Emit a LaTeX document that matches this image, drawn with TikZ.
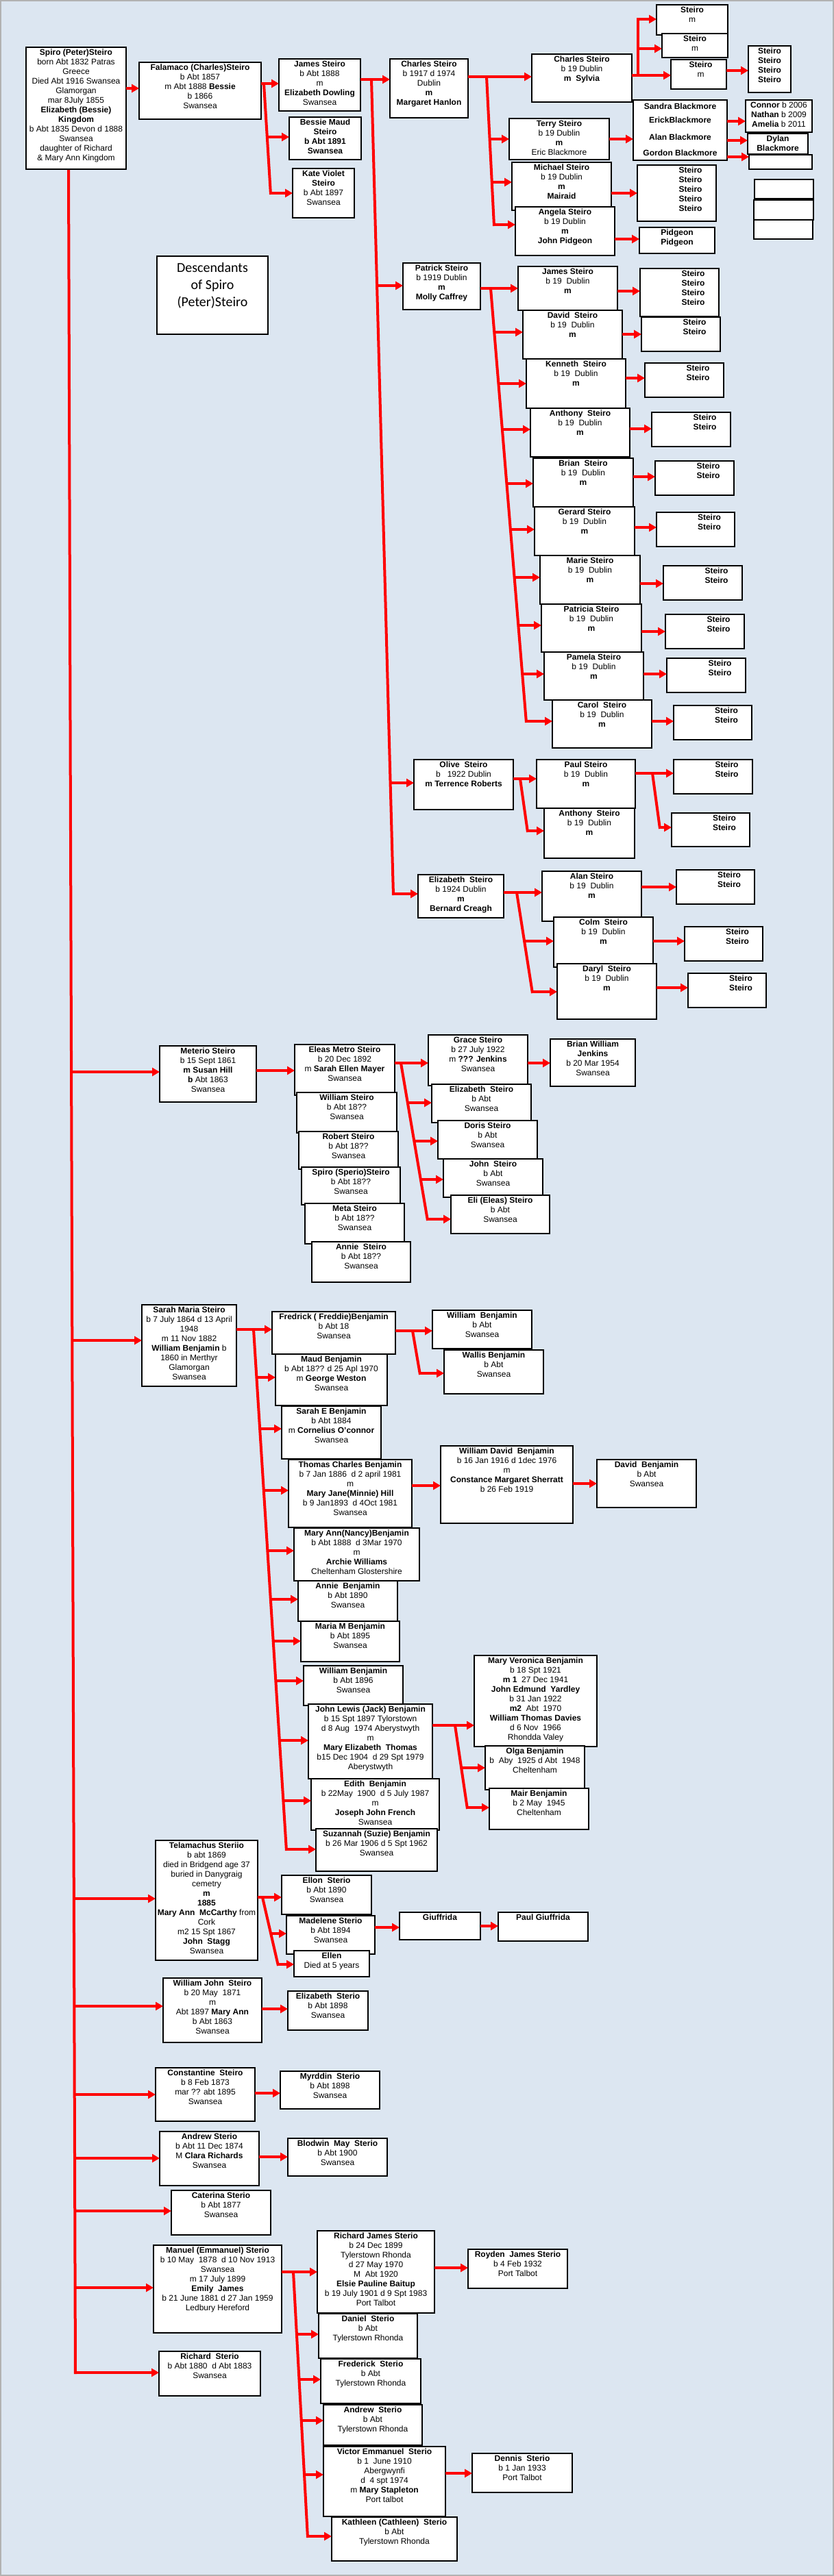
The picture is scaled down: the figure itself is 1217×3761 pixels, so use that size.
\documentclass[tikz,border=0pt]{standalone}
\usepackage{fontspec}
\setmainfont{Liberation Sans}
\newfontfamily\titlefont{Carlito}
\usetikzlibrary{arrows.meta}
\definecolor{bg}{RGB}{220,230,241}
\tikzset{
 pbox/.style={draw=black, fill=white, line width=1.2pt, inner sep=0pt, outer sep=0pt, rectangle},
 ptext/.style={anchor=north, align=center, inner sep=1pt, font=\fontsize{12}{14}\selectfont},
 redline/.style={draw=red, line width=4pt},
 redarrow/.style={redline, -{Triangle[length=11pt,width=12pt]}},
}
\newcommand{\pb}[7][0]{%
 \node[pbox, minimum width={(#5)-(#3)}, minimum height={(#6)-(#4)}] (#2) at ({((#3)+(#5))/2},{((#4)+(#6))/2}) {};
 \node[ptext] (#2-t) at ([xshift=#1pt, yshift=-2pt]#2.north) {#7};}
\newcommand{\ST}{\textbf{Steiro}\\\textbf{Steiro}}
\begin{document}
\begin{tikzpicture}[x=1pt,y=-1pt]
\useasboundingbox (0,0) rectangle (1217,3761);
\fill[bg] (0,0) rectangle (1217,3761);
\draw[gray!60, line width=2pt] (1,1) rectangle (1216,3760);

% ---------- main trunk ----------
\draw[redline] (100,247) -- (110,3466);

% ---------- top family ----------
\pb{spiro}{38}{69}{184}{247}{\textbf{Spiro (Peter)Steiro}\\born Abt 1832 Patras\\Greece\\Died Abt 1916 Swansea\\Glamorgan\\mar 8July 1855\\\textbf{Elizabeth (Bessie)}\\\textbf{Kingdom}\\b Abt 1835 Devon d 1888\\Swansea\\daughter of Richard\\\& Mary Ann Kingdom}
\pb{falamaco}{203}{91}{381}{174}{\textbf{Falamaco (Charles)Steiro}\\b Abt 1857\\m Abt 1888 \textbf{Bessie}\\b 1866\\Swansea}
\pb{james1}{407}{86}{526}{162}{\textbf{James Steiro}\\b Abt 1888\\m\\\textbf{Elizabeth Dowling}\\Swansea}
\pb{bessie}{422}{171}{527}{233}{\textbf{Bessie Maud}\\\textbf{Steiro}\\\textbf{b Abt 1891}\\\textbf{Swansea}}
\pb{kate}{427}{246}{517}{318}{\textbf{Kate Violet}\\\textbf{Steiro}\\b Abt 1897\\Swansea}

\pb{charles1}{569}{86}{683}{172}{\textbf{Charles Steiro}\\b 1917 d 1974\\Dublin\\\textbf{m}\\\textbf{Margaret Hanlon}}
\pb{charles2}{776}{79}{922}{149}{\textbf{Charles Steiro}\\b 19 Dublin\\\textbf{m\ \ Sylvia}}
\pb{terry}{743}{173}{889}{233}{\textbf{Terry Steiro}\\b 19 Dublin\\\textbf{m}\\Eric Blackmore}
\pb{michael}{747}{237}{892}{307}{\textbf{Michael Steiro}\\b 19 Dublin\\\textbf{m}\\\textbf{Mairaid}}
\pb{angela}{752}{302}{897}{373}{\textbf{Angela Steiro}\\b 19 Dublin\\\textbf{m}\\\textbf{John Pidgeon}}
\pb{s1}{958}{7}{1062}{51}{\textbf{Steiro}\\m}
\pb{s2}{966}{49}{1062}{84}{\textbf{Steiro}\\m}
\pb[3]{s3}{979}{87}{1060}{130}{\textbf{Steiro}\\m}
\pb{s4}{1092}{67}{1154}{135}{\ST\\\ST}
\pb{sandra}{924}{146}{1061}{234}{}
\node[ptext] (sandra-t) at ([yshift=-4pt]sandra.north) {\textbf{Sandra Blackmore}\\[6pt]\textbf{ErickBlackmore}\\[11pt]\textbf{Alan Blackmore}\\[9pt]\textbf{Gordon Blackmore}};
\pb{connor}{1088}{146}{1185}{193}{\textbf{Connor} b 2006\\\textbf{Nathan} b 2009\\\textbf{Amelia} b 2011}
\pb{dylan}{1091}{195}{1179}{225}{\textbf{Dylan}\\\textbf{Blackmore}}
\pb{empty1}{1093}{226}{1185}{247}{}
\pb[20]{s5}{930}{241}{1045}{323}{\ST\\\ST\\\textbf{Steiro}}
\pb{pidgeon}{933}{332}{1043}{370}{\textbf{Pidgeon}\\\textbf{Pidgeon}}
\pb{empty2}{1101}{262}{1187}{290}{}
\pb{empty3}{1100}{292}{1187}{321}{}
\pb{empty4}{1100}{321}{1186}{349}{}

% title
\node[pbox, minimum width=162, minimum height=114] (title) at (310,431) {};
\node[anchor=north, align=center, inner sep=0pt, font=\titlefont\fontsize{20}{25}\selectfont] (title-t) at ([yshift=-9pt]title.north) {Descendants\\of Spiro\\(Peter)Steiro};

% Patrick
\pb{patrick}{588}{384}{701}{452}{\textbf{Patrick Steiro}\\b 1919 Dublin\\\textbf{m}\\\textbf{Molly Caffrey}}
\pb{jamesd}{756}{389}{901}{453}{\textbf{James Steiro}\\b 19\ \ Dublin\\\textbf{m}}
\pb{david}{763}{453}{908}{524}{\textbf{David\ \ Steiro}\\b 19\ \ Dublin\\\textbf{m}}
\pb{kenneth}{768}{524}{913}{596}{\textbf{Kenneth\ \ Steiro}\\b 19\ \ Dublin\\\textbf{m}}
\pb{anthony1}{774}{596}{919}{667}{\textbf{Anthony\ \ Steiro}\\b 19\ \ Dublin\\\textbf{m}}
\pb{brian}{778}{669}{924}{740}{\textbf{Brian\ \ Steiro}\\b 19\ \ Dublin\\\textbf{m}}
\pb{gerard}{780}{740}{926}{811}{\textbf{Gerard Steiro}\\b 19\ \ Dublin\\\textbf{m}}
\pb{marie}{788}{811}{934}{882}{\textbf{Marie Steiro}\\b 19\ \ Dublin\\\textbf{m}}
\pb{patricia}{790}{882}{936}{952}{\textbf{Patricia Steiro}\\b 19\ \ Dublin\\\textbf{m}}
\pb{pamela}{794}{952}{939}{1022}{\textbf{Pamela Steiro}\\b 19\ \ Dublin\\\textbf{m}}
\pb{carol}{806}{1022}{951}{1092}{\textbf{Carol\ \ Steiro}\\b 19\ \ Dublin\\\textbf{m}}
\pb[20]{cj}{934}{392}{1049}{462}{\ST\\\ST}
\pb[20]{cd}{936}{463}{1051}{513}{\ST}
\pb[20]{ck}{941}{530}{1056}{580}{\ST}
\pb[20]{ca}{951}{602}{1066}{652}{\ST}
\pb[20]{cb}{956}{673}{1071}{723}{\ST}
\pb[20]{cg}{958}{748}{1072}{798}{\ST}
\pb[20]{cm}{968}{826}{1083}{876}{\ST}
\pb[20]{cpa}{971}{897}{1086}{947}{\ST}
\pb[20]{cpm}{973}{961}{1088}{1011}{\ST}
\pb[20]{cc}{983}{1030}{1097}{1080}{\ST}

% Olive
\pb{olive}{604}{1109}{749}{1182}{\textbf{Olive\ \ Steiro}\\b\ \ \ 1922 Dublin\\\textbf{m Terrence Roberts}}
\pb{paul}{783}{1109}{927}{1180}{\textbf{Paul Steiro}\\b 19\ \ Dublin\\\textbf{m}}
\pb{anthony2}{794}{1180}{926}{1253}{\textbf{Anthony\ \ Steiro}\\b 19\ \ Dublin\\\textbf{m}}
\pb[20]{pA}{983}{1109}{1098}{1159}{\ST}
\pb[20]{pB}{980}{1187}{1094}{1236}{\ST}
% Elizabeth 1924
\pb{eliz}{610}{1277}{735}{1340}{\textbf{Elizabeth\ \ Steiro}\\b 1924 Dublin\\\textbf{m}\\\textbf{Bernard Creagh}}
\pb{alan}{791}{1272}{936}{1345}{\textbf{Alan Steiro}\\b 19\ \ Dublin\\\textbf{m}}
\pb{colm}{808}{1339}{953}{1412}{\textbf{Colm\ \ Steiro}\\b 19\ \ Dublin\\\textbf{m}}
\pb{daryl}{813}{1407}{958}{1488}{\textbf{Daryl\ \ Steiro}\\b 19\ \ Dublin\\\textbf{m}}
\pb[20]{alanc}{987}{1270}{1101}{1320}{\ST}
\pb[20]{colmc}{999}{1353}{1113}{1403}{\ST}
\pb[20]{darylc}{1004}{1421}{1118}{1471}{\ST}

% ---------- Meterio ----------
\pb{meterio}{233}{1527}{374}{1609}{\textbf{Meterio Steiro}\\b 15 Sept 1861\\\textbf{m Susan Hill}\\\textbf{b} Abt 1863\\Swansea}
\pb{eleas}{430}{1525}{576}{1599}{\textbf{Eleas Metro Steiro}\\b 20 Dec 1892\\m \textbf{Sarah Ellen Mayer}\\Swansea}
\pb{william1}{433}{1595}{579}{1654}{\textbf{William Steiro}\\b Abt 18??\\Swansea}
\pb{robert}{436}{1652}{581}{1707}{\textbf{Robert Steiro}\\b Abt 18??\\Swansea}
\pb{spiro2}{440}{1704}{584}{1759}{\textbf{Spiro (Sperio)Steiro}\\b Abt 18??\\Swansea}
\pb{meta}{445}{1757}{590}{1816}{\textbf{Meta Steiro}\\b Abt 18??\\Swansea}
\pb{annie1}{455}{1813}{599}{1872}{\textbf{Annie\ \ Steiro}\\b Abt 18??\\Swansea}
\pb{grace}{625}{1511}{770}{1585}{\textbf{Grace Steiro}\\b 27 July 1922\\m \textbf{??? Jenkins}\\Swansea}
\pb{eliz2}{630}{1583}{775}{1639}{\textbf{Elizabeth\ \ Steiro}\\b Abt\\Swansea}
\pb{doris}{639}{1636}{784}{1692}{\textbf{Doris Steiro}\\b Abt\\Swansea}
\pb{john1}{647}{1692}{792}{1748}{\textbf{John\ \ Steiro}\\b Abt\\Swansea}
\pb{eli}{658}{1745}{802}{1801}{\textbf{Eli (Eleas) Steiro}\\b Abt\\Swansea}
\pb{bwj}{803}{1517}{927}{1586}{\textbf{Brian William}\\\textbf{Jenkins}\\b 20 Mar 1954\\Swansea}

% ---------- Sarah Maria ----------
\pb{sarah}{207}{1905}{345}{2024}{\textbf{Sarah Maria Steiro}\\b 7 July 1864 d 13 April\\1948\\m 11 Nov 1882\\\textbf{William Benjamin} b\\1860 in Merthyr\\Glamorgan\\Swansea}
\pb{fred}{397}{1915}{577}{1977}{\textbf{Fredrick ( Freddie)Benjamin}\\b Abt 18\\Swansea}
\pb{maud}{402}{1977}{565}{2052}{\textbf{Maud Benjamin}\\b Abt 18?? d 25 Apl 1970\\m \textbf{George Weston}\\Swansea}
\pb{saraheb}{411}{2053}{556}{2130}{\textbf{Sarah E Benjamin}\\b Abt 1884\\m \textbf{Cornelius O'connor}\\Swansea}
\pb{thomas}{421}{2131}{601}{2230}{\textbf{Thomas Charles Benjamin}\\b 7 Jan 1886\ \ d 2 april 1981\\m\\\textbf{Mary Jane(Minnie) Hill}\\b 9 Jan1893\ \ d 4Oct 1981\\Swansea}
\pb{wdavid}{643}{2111}{836}{2224}{\textbf{William David\ \ Benjamin}\\b 16 Jan 1916 d 1dec 1976\\m\\\textbf{Constance Margaret Sherratt}\\b 26 Feb 1919}
\pb{davidb}{871}{2131}{1016}{2201}{\textbf{David\ \ Benjamin}\\b Abt\\Swansea}
\pb{wbf}{631}{1913}{776}{1969}{\textbf{William\ \ Benjamin}\\b Abt\\Swansea}
\pb{wallis}{648}{1971}{793}{2035}{\textbf{Wallis Benjamin}\\b Abt\\Swansea}
\pb{nancy}{429}{2231}{612}{2308}{\textbf{Mary Ann(Nancy)Benjamin}\\b Abt 1888\ \ d 3Mar 1970\\m\\\textbf{Archie Williams}\\Cheltenham Glostershire}
\pb{annieb}{435}{2308}{580}{2367}{\textbf{Annie\ \ Benjamin}\\b Abt 1890\\Swansea}
\pb{mariam}{439}{2367}{583}{2426}{\textbf{Maria M Benjamin}\\b Abt 1895\\Swansea}
\pb{wb96}{443}{2432}{588}{2490}{\textbf{William Benjamin}\\b Abt 1896\\Swansea}
\pb{johnl}{450}{2488}{631}{2597}{\textbf{John Lewis (Jack) Benjamin}\\b 15 Spt 1897 Tylorstown\\d 8 Aug\ \ 1974 Aberystwyth\\m\\\textbf{Mary Elizabeth\ \ Thomas}\\b15 Dec 1904\ \ d 29 Spt 1979\\Aberystwyth}
\pb{edith}{454}{2597}{641}{2672}{\textbf{Edith\ \ Benjamin}\\b 22May\ \ 1900\ \ d 5 July 1987\\m\\\textbf{Joseph John French}\\Swansea}
\pb{suz}{461}{2670}{638}{2732}{\textbf{Suzannah (Suzie) Benjamin}\\b 26 Mar 1906 d 5 Spt 1962\\Swansea}
\pb{maryv}{692}{2417}{871}{2550}{\textbf{Mary Veronica Benjamin}\\b 18 Spt 1921\\\textbf{m 1}\ \ 27 Dec 1941\\\textbf{John Edmund\ \ Yardley}\\b 31 Jan 1922\\\textbf{m2}\ \ Abt\ \ 1970\\\textbf{William Thomas Davies}\\d 6 Nov\ \ 1966\\Rhondda Valey}
\pb{olga}{708}{2549}{853}{2613}{\textbf{Olga Benjamin}\\b\ \ Aby\ \ 1925 d Abt\ \ 1948\\Cheltenham}
\pb{mair}{714}{2611}{859}{2671}{\textbf{Mair Benjamin}\\b 2 May\ \ 1945\\Cheltenham}

% ---------- Telamachus ----------
\pb{tel}{227}{2687}{376}{2862}{\textbf{Telamachus Steriio}\\b abt 1869\\died in Bridgend age 37\\buried in Danygraig\\cemetry\\\textbf{m}\\\textbf{1885}\\\textbf{Mary Ann\ \ McCarthy} from\\Cork\\m2 15 Spt 1867\\\textbf{John\ \ Stagg}\\Swansea}
\pb{ellon}{411}{2738}{542}{2795}{\textbf{Ellon\ \ Sterio}\\b Abt 1890\\Swansea}
\pb{madelene}{418}{2797}{547}{2853}{\textbf{Madelene Sterio}\\b Abt 1894\\Swansea}
\pb{ellen}{429}{2848}{539}{2886}{\textbf{Ellen}\\Died at 5 years}
\pb{giuf}{583}{2792}{701}{2832}{\textbf{Giuffrida}}
\pb{paulg}{727}{2792}{858}{2834}{\textbf{Paul Giuffrida}}

\pb{wjohn}{238}{2888}{382}{2982}{\textbf{William John\ \ Steiro}\\b 20 May\ \ 1871\\m\\Abt 1897 \textbf{Mary Ann}\\b Abt 1863\\Swansea}
\pb{elizs}{420}{2907}{537}{2964}{\textbf{Elizabeth\ \ Sterio}\\b Abt 1898\\Swansea}
\pb{const}{227}{3019}{372}{3097}{\textbf{Constantine\ \ Steiro}\\b 8 Feb 1873\\mar ?? abt 1895\\Swansea}
\pb{myrddin}{409}{3024}{554}{3079}{\textbf{Myrddin\ \ Sterio}\\b Abt 1898\\Swansea}
\pb{andrew1}{233}{3112}{378}{3191}{\textbf{Andrew Sterio}\\b Abt 11 Dec 1874\\M \textbf{Clara Richards}\\Swansea}
\pb{blodwin}{420}{3122}{565}{3177}{\textbf{Blodwin\ \ May\ \ Sterio}\\b Abt 1900\\Swansea}
\pb{caterina}{250}{3198}{395}{3263}{\textbf{Caterina Sterio}\\b Abt 1877\\Swansea}

% ---------- Manuel ----------
\pb{manuel}{224}{3278}{411}{3406}{\textbf{Manuel (Emmanuel) Sterio}\\b 10 May\ \ 1878\ \ d 10 Nov 1913\\Swansea\\m 17 July 1899\\\textbf{Emily\ \ James}\\b 21 June 1881 d 27 Jan 1959\\Ledbury Hereford}
\pb{richard}{232}{3433}{380}{3498}{\textbf{Richard\ \ Sterio}\\b Abt 1880\ \ d Abt 1883\\Swansea}
\pb{rjames}{463}{3257}{634}{3377}{\textbf{Richard James Sterio}\\b 24 Dec 1899\\Tylerstown Rhonda\\d 27 May 1970\\M\ \ Abt 1920\\\textbf{Elsie Pauline Baitup}\\b 19 July 1901 d 9 Spt 1983\\Port Talbot}
\pb{royden}{683}{3284}{828}{3341}{\textbf{Royden\ \ James Sterio}\\b 4 Feb 1932\\Port Talbot}
\pb{daniel}{465}{3378}{609}{3443}{\textbf{Daniel\ \ Sterio}\\b Abt\\Tylerstown Rhonda}
\pb{frederick}{468}{3444}{614}{3509}{\textbf{Frederick\ \ Sterio}\\b Abt\\Tylerstown Rhonda}
\pb{andrew2}{472}{3511}{616}{3570}{\textbf{Andrew\ \ Sterio}\\b Abt\\Tylerstown Rhonda}
\pb{victor}{472}{3572}{650}{3674}{\textbf{Victor Emmanuel\ \ Sterio}\\b 1\ \ June 1910\\Abergwynfi\\d\ \ 4 spt 1974\\m \textbf{Mary Stapleton}\\Port talbot}
\pb{dennis}{689}{3582}{835}{3639}{\textbf{Dennis\ \ Sterio}\\b 1 Jan 1933\\Port Talbot}
\pb{kathleen}{484}{3675}{667}{3739}{\textbf{Kathleen (Cathleen)\ \ Sterio}\\b Abt\\Tylerstown Rhonda}

% ================= connectors =================
\draw[redarrow] (spiro.east |- 0,129) -- (falamaco.west |- 0,129);
\draw[redline] (falamaco.east |- 0,122) -- (385,122) -- (395,284);
\draw[redarrow] (385,122) -- (james1.west |- 0,122);
\draw[redarrow] (390,200) -- (bessie.west |- 0,200);
\draw[redarrow] (395,282) -- (kate.west |- 0,282);

\draw[redarrow] (james1.east |- 0,116) -- (charles1.west |- 0,116);
\draw[redline] (542,116) -- (574,1307);
\draw[redarrow] (550,417) -- (patrick.west |- 0,417);
\draw[redarrow] (570,1143) -- (olive.west |- 0,1143);
\draw[redarrow] (574,1305) -- (eliz.west |- 0,1305);

\draw[redarrow] (charles1.east |- 0,112) -- (charles2.west |- 0,112);
\draw[redline] (710,112) -- (721,330);
\draw[redarrow] (714.5,203) -- (terry.west |- 0,203);
\draw[redarrow] (718,266) -- (michael.west |- 0,266);
\draw[redarrow] (721,328) -- (angela.west |- 0,328);

\draw[redarrow] (charles2.east |- 0,110) -- (s3.west |- 0,110);
\draw[redline] (931,112) -- (931,26);
\draw[redarrow] (931,28) -- (s1.west |- 0,28);
\draw[redarrow] (931,71) -- (s2.west |- 0,71);
\draw[redarrow] (s3.east |- 0,103) -- (s4.west |- 0,103);
\draw[redarrow] (terry.east |- 0,203) -- (sandra.west |- 0,203);
\draw[redarrow] (sandra.east |- 0,177) -- (connor.west |- 0,177);
\draw[redarrow] (sandra.east |- 0,205) -- (dylan.west |- 0,205);
\draw[redarrow] (sandra.east |- 0,229) -- (empty1.west |- 0,229);
\draw[redarrow] (michael.east |- 0,282) -- (s5.west |- 0,282);
\draw[redarrow] (angela.east |- 0,349) -- (pidgeon.west |- 0,349);

\draw[redarrow] (patrick.east |- 0,421) -- (jamesd.west |- 0,421);
\draw[redline] (716,421) -- (768,1055);
\draw[redarrow] (721.3,485) -- (david.west |- 0,485);
\draw[redarrow] (727.4,560) -- (kenneth.west |- 0,560);
\draw[redarrow] (732.9,627) -- (anthony1.west |- 0,627);
\draw[redarrow] (739.5,706) -- (brian.west |- 0,706);
\draw[redarrow] (745,773) -- (gerard.west |- 0,773);
\draw[redarrow] (750.7,843) -- (marie.west |- 0,843);
\draw[redarrow] (756.5,913) -- (patricia.west |- 0,913);
\draw[redarrow] (762.3,984) -- (pamela.west |- 0,984);
\draw[redarrow] (768,1053) -- (carol.west |- 0,1053);
\draw[redarrow] (jamesd.east |- 0,425) -- (cj.west |- 0,425);
\draw[redarrow] (david.east |- 0,488) -- (cd.west |- 0,488);
\draw[redarrow] (kenneth.east |- 0,552) -- (ck.west |- 0,552);
\draw[redarrow] (anthony1.east |- 0,626) -- (ca.west |- 0,626);
\draw[redarrow] (brian.east |- 0,696) -- (cb.west |- 0,696);
\draw[redarrow] (gerard.east |- 0,770) -- (cg.west |- 0,770);
\draw[redarrow] (marie.east |- 0,852) -- (cm.west |- 0,852);
\draw[redarrow] (patricia.east |- 0,922) -- (cpa.west |- 0,922);
\draw[redarrow] (pamela.east |- 0,984) -- (cpm.west |- 0,984);
\draw[redarrow] (carol.east |- 0,1053) -- (cc.west |- 0,1053);

\draw[redarrow] (olive.east |- 0,1137) -- (paul.west |- 0,1137);
\draw[redline] (759,1137) -- (770,1215);
\draw[redarrow] (770,1213) -- (anthony2.west |- 0,1213);
\draw[redarrow] (paul.east |- 0,1129) -- (pA.west |- 0,1129);
\draw[redline] (952,1129) -- (963,1210);
\draw[redarrow] (963,1208) -- (pB.west |- 0,1208);

\draw[redarrow] (eliz.east |- 0,1303) -- (alan.west |- 0,1303);
\draw[redline] (754,1303) -- (777,1450);
\draw[redarrow] (765,1374) -- (colm.west |- 0,1374);
\draw[redarrow] (777,1448) -- (daryl.west |- 0,1448);
\draw[redarrow] (alan.east |- 0,1295) -- (alanc.west |- 0,1295);
\draw[redarrow] (colm.east |- 0,1374) -- (colmc.west |- 0,1374);
\draw[redarrow] (daryl.east |- 0,1442) -- (darylc.west |- 0,1442);

% Meterio
\draw[redarrow] (104,1565) -- (meterio.west |- 0,1565);
\draw[redarrow] (meterio.east |- 0,1563) -- (eleas.west |- 0,1563);
\draw[redarrow] (eleas.east |- 0,1552) -- (grace.west |- 0,1552);
\draw[redline] (585,1552) -- (624,1782);
\draw[redarrow] (595,1610) -- (eliz2.west |- 0,1610);
\draw[redarrow] (604.5,1666) -- (doris.west |- 0,1666);
\draw[redarrow] (614,1722) -- (john1.west |- 0,1722);
\draw[redarrow] (624,1780) -- (eli.west |- 0,1780);
\draw[redarrow] (grace.east |- 0,1552) -- (bwj.west |- 0,1552);

% Sarah
\draw[redarrow] (105,1957) -- (sarah.west |- 0,1957);
\draw[redarrow] (sarah.east |- 0,1941) -- (fred.west |- 0,1941);
\draw[redline] (370,1941) -- (418,2702);
\draw[redarrow] (374.4,2011) -- (maud.west |- 0,2011);
\draw[redarrow] (379.2,2086) -- (saraheb.west |- 0,2086);
\draw[redarrow] (384.9,2176) -- (thomas.west |- 0,2176);
\draw[redarrow] (390.4,2264) -- (nancy.west |- 0,2264);
\draw[redarrow] (394.9,2335) -- (annieb.west |- 0,2335);
\draw[redarrow] (398.8,2396) -- (mariam.west |- 0,2396);
\draw[redarrow] (402.4,2454) -- (wb96.west |- 0,2454);
\draw[redarrow] (407.9,2541) -- (johnl.west |- 0,2541);
\draw[redarrow] (413.5,2629) -- (edith.west |- 0,2629);
\draw[redarrow] (418,2700) -- (suz.west |- 0,2700);
\draw[redarrow] (fred.east |- 0,1943) -- (wbf.west |- 0,1943);
\draw[redline] (602,1943) -- (613,2007);
\draw[redarrow] (613,2005) -- (wallis.west |- 0,2005);
\draw[redarrow] (thomas.east |- 0,2169) -- (wdavid.west |- 0,2169);
\draw[redarrow] (wdavid.east |- 0,2166) -- (davidb.west |- 0,2166);
\draw[redarrow] (johnl.east |- 0,2519) -- (maryv.west |- 0,2519);
\draw[redline] (664,2519) -- (682,2641);
\draw[redarrow] (673,2581) -- (olga.west |- 0,2581);
\draw[redarrow] (682,2639) -- (mair.west |- 0,2639);

% Telamachus
\draw[redarrow] (108,2772) -- (tel.west |- 0,2772);
\draw[redarrow] (tel.east |- 0,2770) -- (ellon.west |- 0,2770);
\draw[redline] (383,2770) -- (406,2870);
\draw[redarrow] (395.4,2823) -- (madelene.west |- 0,2823);
\draw[redarrow] (406,2868) -- (ellen.west |- 0,2868);
\draw[redarrow] (madelene.east |- 0,2814) -- (giuf.west |- 0,2814);
\draw[redarrow] (giuf.east |- 0,2812) -- (paulg.west |- 0,2812);

\draw[redarrow] (108,2929) -- (wjohn.west |- 0,2929);
\draw[redarrow] (wjohn.east |- 0,2933) -- (elizs.west |- 0,2933);
\draw[redarrow] (109,3058) -- (const.west |- 0,3058);
\draw[redarrow] (const.east |- 0,3056) -- (myrddin.west |- 0,3056);
\draw[redarrow] (109,3151) -- (andrew1.west |- 0,3151);
\draw[redarrow] (andrew1.east |- 0,3149) -- (blodwin.west |- 0,3149);
\draw[redarrow] (109,3228) -- (caterina.west |- 0,3228);

% Manuel
\draw[redarrow] (110,3340) -- (manuel.west |- 0,3340);
\draw[redarrow] (manuel.east |- 0,3317) -- (rjames.west |- 0,3317);
\draw[redline] (428,3317) -- (449,3705);
\draw[redarrow] (432.9,3408) -- (daniel.west |- 0,3408);
\draw[redarrow] (436.5,3474) -- (frederick.west |- 0,3474);
\draw[redarrow] (439.8,3534) -- (andrew2.west |- 0,3534);
\draw[redarrow] (444.1,3613) -- (victor.west |- 0,3613);
\draw[redarrow] (449,3703) -- (kathleen.west |- 0,3703);
\draw[redarrow] (rjames.east |- 0,3311) -- (royden.west |- 0,3311);
\draw[redarrow] (victor.east |- 0,3611) -- (dennis.west |- 0,3611);
\draw[redarrow] (110,3464) -- (richard.west |- 0,3464);
\end{tikzpicture}
\end{document}
